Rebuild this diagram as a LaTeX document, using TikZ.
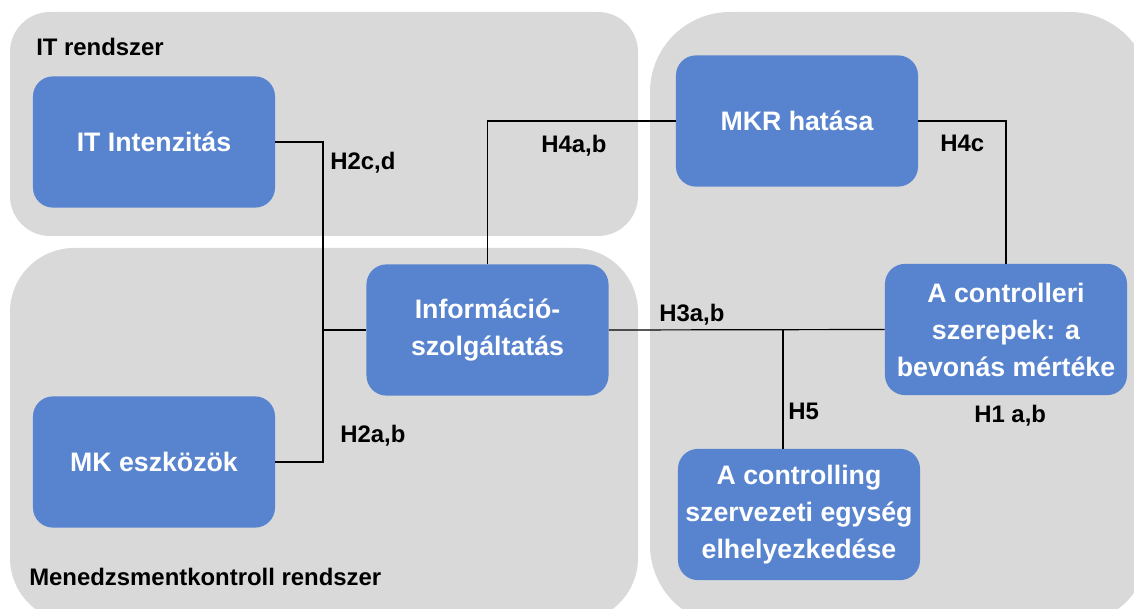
\documentclass[tikz,border=0pt]{standalone}
\usepackage{fontspec}
\setmainfont{Liberation Sans}
\usepackage{tikz}
\definecolor{regiongray}{HTML}{D9D9D9}
\definecolor{boxblue}{HTML}{5884CF}

\begin{document}
\begin{tikzpicture}[x=0.025cm, y=-0.025cm,
    box/.style={fill=boxblue, rounded corners=0.5cm, inner sep=2pt,
      minimum width=6.05cm, minimum height=3.28cm, align=center, text=white,
      font=\fontsize{19}{26.3}\selectfont\bfseries},
    hyp/.style={anchor=west, inner sep=0pt, font=\fontsize{17}{20}\selectfont\bfseries},
    link/.style={line width=0.85pt}]
      \useasboundingbox (0,0) rectangle (1134,609);
      \clip (0,0) rectangle (1134,609);
      \fill[regiongray, rounded corners=1cm] (10,12) rectangle (638,236);
      \fill[regiongray, rounded corners=1.6cm] (10,248) rectangle (638,622);
      \fill[regiongray, rounded corners=2cm] (650,12) rectangle (1150,625);
      \node[hyp] (itrsz) at (36,47) {IT rendszer};
      \node[hyp] (mkrsz) at (29,577) {Menedzsmentkontroll rendszer};
      \node[box] (itint) at (154,142) {IT Intenzitás};
      \node[box] (mk) at (154,462) {MK eszközök};
      \node[box] (info) at (487.5,330) {Információ-\\szolgáltatás};
      \node[box] (mkr) at (797,121) {MKR hatása};
      \node[box] (ctrl) at (1006,329.5) {A controlleri\\szerepek: a\\bevonás mértéke};
      \node[box] (loc) at (799,514.5) {A controlling\\szervezeti egység\\elhelyezkedése};
      \coordinate (bus) at (323,330);
      \coordinate (t5) at (783,330);
      \draw[link] (itint.east) -| (bus) |- (mk.east);
      \draw[line width=1.6pt] (bus) -- (info.west);
      \draw[link] (info.north) |- (mkr.west);
      \draw[link] (mkr.east) -| (ctrl.north);
      \draw[link] (info.east) -- (ctrl.west);
      \draw[link] (t5) -- (t5 |- loc.north);
      \foreach \x/\y/\t [count=\i] in {330/163/{H2c,d}, 340/436/{H2a,b}, 541/146/{H4a,b},
          940/143/{H4c}, 659/315/{H3a,b}, 788/411/{H5}, 974/416/{H1 a,b}} {
        \node[hyp] (h\i) at (\x,\y) {\t};
      }
    \end{tikzpicture}
\end{document}
